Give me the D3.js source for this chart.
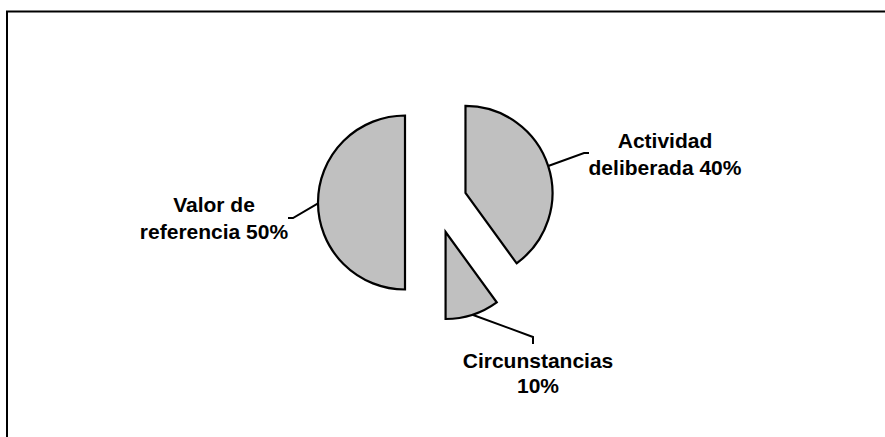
<!DOCTYPE html>
<html>
<head>
<meta charset="utf-8">
<script src="https://cdn.jsdelivr.net/npm/d3@7"></script>
<style>
  html, body { margin: 0; padding: 0; background: #fff; }
  svg { display: block; }
</style>
</head>
<body>
<svg id="chart" width="885" height="437"></svg>
<script>
// ---- data ----
const categories = ["Actividad deliberada", "Circunstancias", "Valor de referencia"];
const values = [40, 10, 50];
const labelLines = [
  ["Actividad", "deliberada 40%"],
  ["Circunstancias", "10%"],
  ["Valor de", "referencia 50%"]
];

// ---- layout ----
const W = 885, H = 437;
const cx = 436, cy = 202.5, R = 87, explode = 31;
const labelPos = [   // label centre x, first baseline y, line spacing
  {x: 665, y: 148, lh: 27},
  {x: 538, y: 368, lh: 25},
  {x: 214, y: 212, lh: 27}
];
const elbows = [     // leader elbow points and tick ends
  {p: [584, 153], t: [589, 153]},
  {p: [533, 337], t: [533, 344]},
  {p: [293, 218], t: [288, 218]}
];

const svg = d3.select("#chart");

// frame
svg.append("rect")
  .attr("x", 7).attr("y", 11.5)
  .attr("width", 900).attr("height", 450)
  .attr("fill", "#fff").attr("stroke", "#000").attr("stroke-width", 2);

const pie = d3.pie().sort(null).value(d => d);
const arcs = pie(values);
const arc = d3.arc().innerRadius(0).outerRadius(R);

const g = svg.append("g").attr("transform", `translate(${cx},${cy})`);

arcs.forEach((a, i) => {
  const mid = (a.startAngle + a.endAngle) / 2;
  const ox = explode * Math.sin(mid), oy = -explode * Math.cos(mid);
  g.append("path")
    .attr("d", arc(a))
    .attr("transform", `translate(${ox},${oy})`)
    .attr("fill", "#c0c0c0")
    .attr("stroke", "#000")
    .attr("stroke-width", 2.2)
    .attr("stroke-linejoin", "miter");

  // leader line start on arc
  let ang = mid;
  if (i === 2) ang = mid - 0.01;
  const sx = cx + ox + R * Math.sin(ang);
  const sy = cy + oy - R * Math.cos(ang);
  const e = elbows[i];
  svg.append("polyline")
    .attr("points", [[sx, sy], e.p, e.t].map(p => p.join(",")).join(" "))
    .attr("fill", "none")
    .attr("stroke", "#000")
    .attr("stroke-width", 2);

  const t = svg.append("text")
    .attr("text-anchor", "middle")
    .attr("font-family", "'Liberation Sans', Arial, sans-serif")
    .attr("font-weight", "bold")
    .attr("font-size", 21)
    .attr("fill", "#000");
  labelLines[i].forEach((ln, k) => {
    t.append("tspan")
      .attr("x", labelPos[i].x)
      .attr("y", labelPos[i].y + k * labelPos[i].lh)
      .text(ln);
  });
});
</script>
</body>
</html>
